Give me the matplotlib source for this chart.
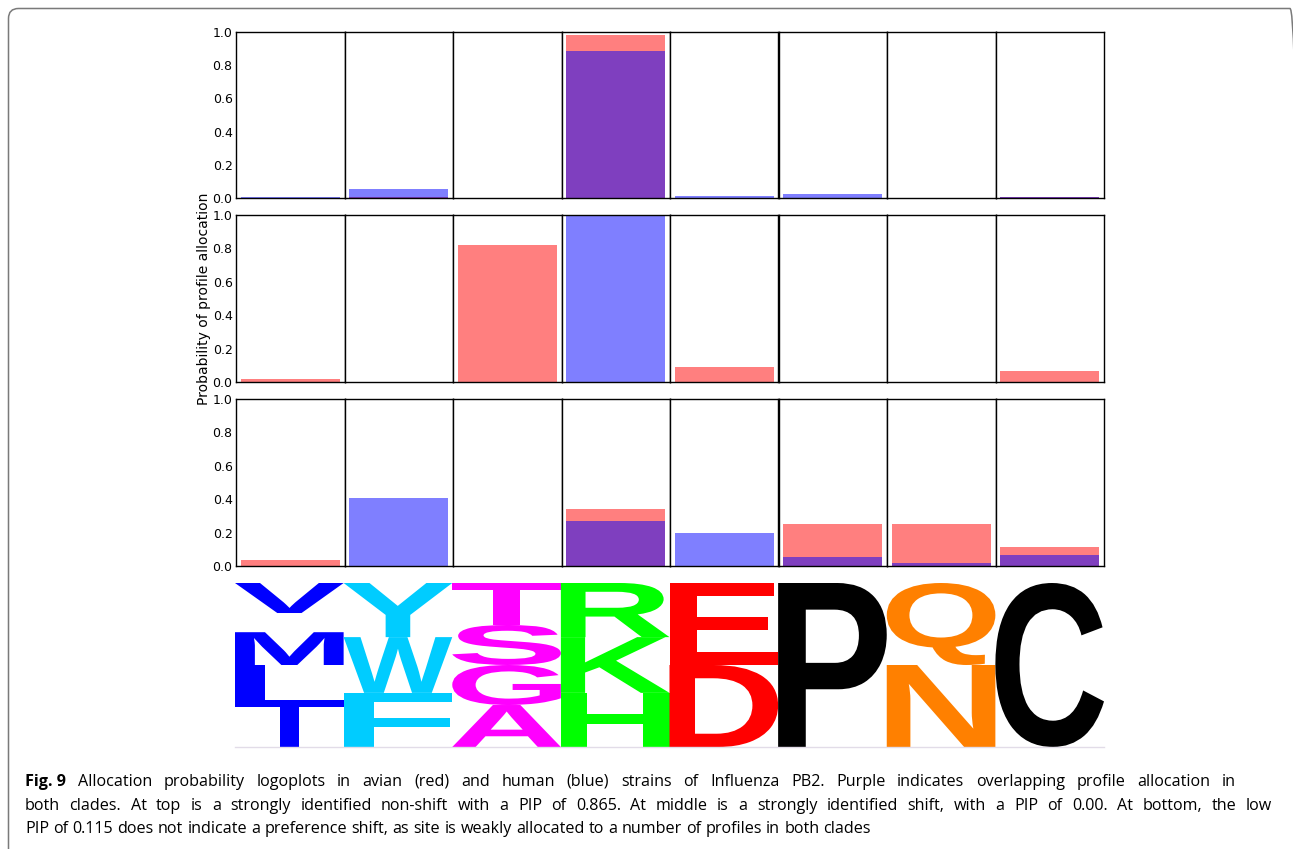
import matplotlib
matplotlib.use("Agg")
import matplotlib.pyplot as plt
import matplotlib.transforms as mtransforms
from matplotlib.textpath import TextPath
from matplotlib.patches import PathPatch, FancyBboxPatch
from matplotlib.font_manager import FontProperties

W, H = 1293, 849

# Allocation probability of each of the 8 profiles, avian (red) vs human (blue)
avian_top = [0.003, 0.005, 0.002, 0.98, 0.0, 0.0, 0.0, 0.004]
human_top = [0.008, 0.055, 0.002, 0.885, 0.012, 0.024, 0.0, 0.006]
avian_mid = [0.02, 0.0, 0.82, 0.0, 0.09, 0.0, 0.0, 0.065]
human_mid = [0.0, 0.0, 0.0, 1.0, 0.0, 0.0, 0.0, 0.0]
avian_bot = [0.036, 0.0, 0.0, 0.339, 0.0, 0.253, 0.252, 0.116]
human_bot = [0.0, 0.405, 0.0, 0.267, 0.195, 0.052, 0.016, 0.064]

ytick_values = [0.0, 0.2, 0.4, 0.6, 0.8, 1.0]
ytick_labels = ["0.0", "0.2", "0.4", "0.6", "0.8", "1.0"]
ylabel_text = "Probability of profile allocation"

# Amino-acid composition of each profile, stacked bottom to top
logo_letters = [
    ["I", "L", "M", "V"],
    ["F", "W", "Y"],
    ["A", "G", "S", "T"],
    ["H", "K", "R"],
    ["D", "E"],
    ["P"],
    ["N", "Q"],
    ["C"],
]
logo_heights = [
    [0.244, 0.256, 0.20, 0.30],
    [0.33, 0.34, 0.33],
    [0.256, 0.244, 0.244, 0.256],
    [0.33, 0.34, 0.33],
    [0.5, 0.5],
    [1.0],
    [0.5, 0.5],
    [1.0],
]
logo_colors = ["#0000ff", "#00ccff", "#ff00ff", "#00ff00",
               "#ff0000", "#000000", "#ff8000", "#000000"]

caption_bold = "Fig. 9"
caption_lines = [
    "Allocation probability logoplots in avian (red) and human (blue) strains of Influenza PB2. Purple indicates overlapping profile allocation in",
    "both clades. At top is a strongly identified non-shift with a PIP of 0.865. At middle is a strongly identified shift, with a PIP of 0.00. At bottom, the low",
    "PIP of 0.115 does not indicate a preference shift, as site is weakly allocated to a number of profiles in both clades",
]

fig = plt.figure(figsize=(W / 100, H / 100), dpi=100)
fig.patch.set_facecolor("white")

n_cols = 8
x_left, x_right = 236.0, 1104.0
col_w = (x_right - x_left) / n_cols
rows = [  # (top px, bottom px, avian, human)
    (32, 198, avian_top, human_top),
    (215, 382, avian_mid, human_mid),
    (399, 566, avian_bot, human_bot),
]

for r, (top, bot, avian, human) in enumerate(rows):
    for c in range(n_cols):
        ax = fig.add_axes([(x_left + c * col_w) / W, 1 - bot / H,
                           col_w / W, (bot - top) / H])
        ax.bar([0], [avian[c]], width=0.91, color="red", alpha=0.5, linewidth=0)
        ax.bar([0], [human[c]], width=0.91, color="blue", alpha=0.5, linewidth=0)
        ax.set_xlim(-0.5, 0.5)
        ax.set_ylim(0, 1)
        ax.set_xticks([])
        for sp in ax.spines.values():
            sp.set_linewidth(1.0)
            sp.set_color("black")
        if c == 0:
            ax.set_yticks(ytick_values)
            ax.set_yticklabels(ytick_labels)
            ax.tick_params(axis="y", length=0, pad=2.5, labelsize=9)
            if r == 1:
                ax.set_ylabel(ylabel_text, fontsize=10, labelpad=1)
        else:
            ax.set_yticks([])

# Sequence logo of the profiles
logo_font = FontProperties(family="Liberation Sans", weight="bold")
letter_width = {"I": 0.17}   # fraction of the column a glyph spans
letter_fill = {"V": 0.61}    # fraction of its slot a glyph fills (from top)


def draw_letter(ax, ch, xc, y0, h, color):
    tp = TextPath((0, 0), ch, size=1, prop=logo_font)
    bb = tp.get_extents()
    w = letter_width.get(ch, 1.0)
    gh = h * letter_fill.get(ch, 1.0)
    tr = (mtransforms.Affine2D()
          .translate(-bb.x0, -bb.y0)
          .scale(w / bb.width, gh / bb.height)
          .translate(xc - w / 2, y0 + h - gh))
    ax.add_patch(PathPatch(tr.transform_path(tp), facecolor=color,
                           edgecolor="none"))


lax = fig.add_axes([235 / W, 1 - 747 / H, 869 / W, 164 / H])
lax.set_xlim(0, n_cols)
lax.set_ylim(0, 1)
lax.axis("off")
for c in range(n_cols):
    y = 0.0
    for ch, h in zip(logo_letters[c], logo_heights[c]):
        draw_letter(lax, ch, c + 0.5, y, h, logo_colors[c])
        y += h
lax.plot([0, n_cols], [0, 0], color="#e2dce8", lw=1, clip_on=False)

# Caption: first two lines set to the measure, last line ragged
cap_font = "Open Sans"
cap_size = 11.6
cap_x0 = 25.0
line_ends = [1236.0, 1272.0, None]
y_lines = [782, 806, 829]
fig.canvas.draw()
renderer = fig.canvas.get_renderer()


def word_width(word, bold=False):
    t = fig.text(0, 0, word, fontsize=cap_size, family=cap_font,
                 weight="bold" if bold else "normal")
    w = t.get_window_extent(renderer).width
    t.remove()
    return w


space = word_width("a b") - word_width("ab")
for i, (yl, line, x_end) in enumerate(zip(y_lines, caption_lines, line_ends)):
    words = [(w, False) for w in line.split(" ")]
    if i == 0:
        words = [(caption_bold, True)] + words
    widths = [word_width(w, b) for w, b in words]
    if x_end is not None:
        gap = (x_end - cap_x0 - sum(widths)) / (len(words) - 1)
    else:
        gap = space
    x = cap_x0
    for (w, b), ww in zip(words, widths):
        fig.text(x / W, 1 - yl / H, w, fontsize=cap_size, family=cap_font,
                 weight="bold" if b else "normal", va="center", ha="left")
        x += ww + gap

# Rounded frame around the figure
px = mtransforms.Affine2D().scale(1 / W, 1 / H) + fig.transFigure
frame = FancyBboxPatch((8.5, -40), 1291.5, H - 8.5 + 40,
                       boxstyle="round,pad=0,rounding_size=10",
                       transform=px, facecolor="none", edgecolor="#7a7a7a",
                       linewidth=1.1, clip_on=False)
fig.add_artist(frame)

fig.savefig("out.png", dpi=100, facecolor="white")
